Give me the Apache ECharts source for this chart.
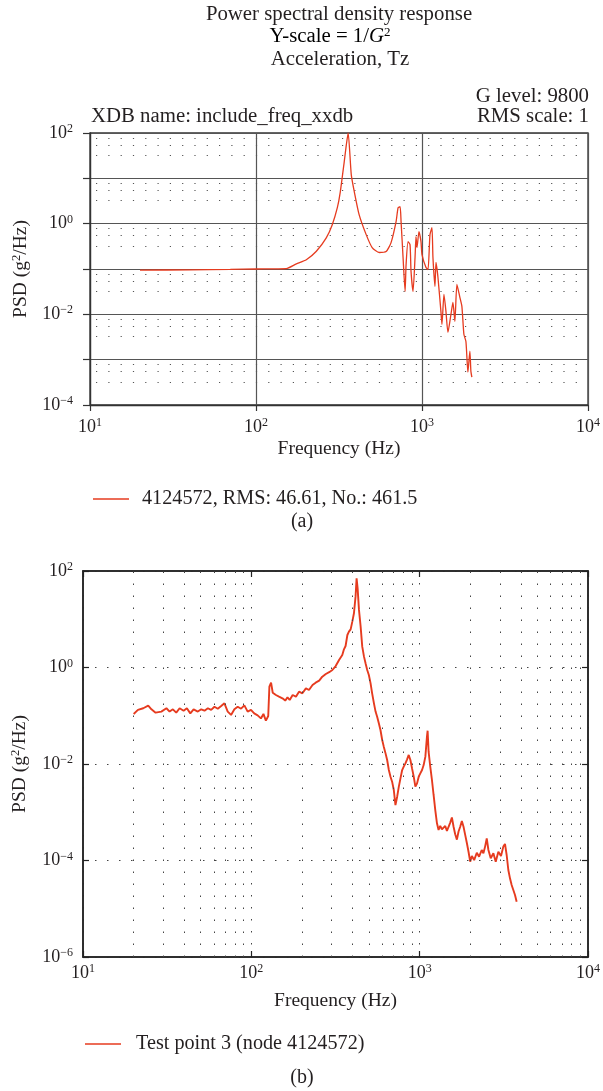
<!DOCTYPE html>
<html>
<head>
<meta charset="utf-8">
<script src="https://cdn.jsdelivr.net/npm/echarts@6/dist/echarts.min.js"></script>
<style>
html,body{margin:0;padding:0;background:#fff;}
#chart{width:603px;height:1091px;}
</style>
</head>
<body>
<div id="chart"></div>
<script>
// ---- data (a): frequency (Hz) and PSD (g^2/Hz) ----
const topFreq = [20, 40, 70, 100, 152, 175, 201, 231, 265, 288, 309, 322, 340, 350, 359, 375, 391, 418, 461, 501, 552, 608, 651, 698, 718, 738, 748, 769, 791, 802, 824, 847, 859, 883, 908, 920, 933, 959, 986, 1000, 1057, 1087, 1117, 1148, 1164, 1197, 1214, 1248, 1300, 1319, 1356, 1394, 1433, 1494, 1536, 1578, 1623, 1691, 1739, 1788, 1838, 1864, 1890, 1943, 1970, 1997];
const topPsd = [0.094, 0.096, 0.098, 0.1, 0.102, 0.13, 0.16, 0.246, 0.485, 0.95, 2.25, 5.05, 23.1, 54.5, 100, 11.9, 5.05, 1.58, 0.573, 0.297, 0.231, 0.243, 0.382, 1.11, 2.25, 2.36, 1.11, 0.179, 0.032, 0.126, 0.402, 0.345, 0.088, 0.032, 0.179, 0.518, 0.297, 0.667, 0.402, 0.208, 0.108, 0.0975, 0.573, 0.817, 0.179, 0.0412, 0.139, 0.065, 0.0116, 0.006, 0.0275, 0.0116, 0.004, 0.01, 0.0184, 0.007, 0.0456, 0.0237, 0.015, 0.00363, 0.00255, 0.00114, 0.00053, 0.00154, 0.00056, 0.00041];

// ---- data (b) ----
const botFreq = [20, 21.2, 22.8, 24.4, 25.5, 27.0, 29.2, 31.3, 32.7, 34.2, 35.8, 37.5, 39.6, 41.4, 43.4, 45.4, 48.1, 50.4, 52.7, 55.2, 57.7, 60.4, 63.2, 66.2, 69.2, 72.4, 75.8, 79.3, 83.0, 86.9, 90.9, 95.1, 99.5, 104, 109, 114, 118, 122, 126, 128, 131, 134, 140, 146, 153, 159, 164, 169, 176, 184, 192, 201, 211, 220, 231, 241, 253, 264, 277, 290, 303, 317, 332, 347, 355, 363, 372, 380, 389, 398, 407, 416, 422, 428, 436, 446, 456, 467, 477, 488, 499, 511, 522, 535, 547, 559, 572, 585, 599, 612, 627, 641, 656, 671, 686, 702, 718, 735, 752, 769, 787, 804, 823, 842, 861, 881, 901, 922, 943, 965, 987, 1009, 1033, 1056, 1081, 1105, 1115, 1130, 1156, 1183, 1210, 1238, 1267, 1295, 1325, 1356, 1387, 1419, 1452, 1485, 1519, 1554, 1590, 1626, 1664, 1702, 1741, 1781, 1822, 1864, 1907, 1951, 1996, 2042, 2107, 2185, 2254, 2337, 2392, 2447, 2503, 2561, 2643, 2741, 2830, 2934, 3042, 3140, 3213, 3287, 3363, 3440, 3519, 3601, 3684, 3769];
const botPsd = [0.109, 0.132, 0.143, 0.162, 0.136, 0.116, 0.122, 0.143, 0.122, 0.136, 0.116, 0.143, 0.127, 0.143, 0.112, 0.136, 0.122, 0.136, 0.127, 0.143, 0.132, 0.154, 0.140, 0.159, 0.181, 0.122, 0.104, 0.136, 0.154, 0.140, 0.164, 0.122, 0.132, 0.112, 0.102, 0.088, 0.109, 0.079, 0.099, 0.40, 0.485, 0.30, 0.269, 0.249, 0.23, 0.206, 0.241, 0.212, 0.269, 0.249, 0.316, 0.292, 0.370, 0.342, 0.434, 0.485, 0.533, 0.645, 0.733, 0.80, 0.887, 1.07, 1.43, 1.82, 2.38, 2.79, 4.72, 5.53, 6.18, 8.91, 13.3, 29.4, 70.5, 43.7, 15.6, 7.01, 2.70, 1.68, 1.22, 0.887, 0.70, 0.47, 0.292, 0.181, 0.122, 0.0957, 0.0697, 0.0507, 0.0314, 0.0229, 0.0166, 0.0121, 0.0075, 0.00546, 0.0043, 0.00289, 0.00141, 0.0021, 0.00339, 0.00505, 0.0075, 0.0088, 0.0103, 0.0125, 0.0154, 0.0121, 0.0081, 0.00546, 0.00339, 0.00397, 0.00546, 0.0064, 0.0075, 0.0095, 0.0142, 0.0368, 0.049, 0.018, 0.0088, 0.00466, 0.00228, 0.00111, 0.00059, 0.00043, 0.00052, 0.00044, 0.0004, 0.00052, 0.00041, 0.0005, 0.00061, 0.00078, 0.0005, 0.00035, 0.00027, 0.0004, 0.0005, 0.00066, 0.0005, 0.00034, 0.00023, 0.000152, 0.0000946, 0.000124, 0.000102, 0.000145, 0.00012, 0.000165, 0.000141, 0.000194, 0.000288, 0.000165, 0.000111, 0.000141, 0.0000946, 0.000152, 0.000124, 0.000194, 0.00022, 0.00013, 0.0000635, 0.0000427, 0.000031, 0.0000245, 0.0000193, 0.000014];

// ---- texts ----
const titleLines = ['Power spectral density response', 'Acceleration, Tz'];
const gLevel = 'G level: 9800';
const xdbName = 'XDB name: include_freq_xxdb';
const rmsScale = 'RMS scale: 1';
const seriesA = '4124572, RMS: 46.61, No.: 461.5';
const seriesB = 'Test point 3 (node 4124572)';
const xName = 'Frequency (Hz)';
const minorMultipliers = [2, 3, 4, 5, 6, 7, 8, 9];
const decades = [10, 100, 1000];

const FONT = '"Liberation Serif", "DejaVu Serif", serif';
const TXT = '#231f20';
const RED = '#e63b1f';

const minorFreqs = [];
decades.forEach(d => minorMultipliers.forEach(m => minorFreqs.push(d * m)));

const powText = e => '{b|10}{s|' + (e < 0 ? '\u2212' + (-e) : e) + '}';
const powLabel = v => powText(Math.round(Math.log10(v)));
const powLabelEven = v => {
  const e = Math.round(Math.log10(v));
  return e % 2 === 0 ? powText(e) : '';
};
const powRich = {
  b: {fontSize: 18, fontFamily: FONT, color: TXT, lineHeight: 20},
  s: {fontSize: 12, fontFamily: FONT, color: TXT, verticalAlign: 'top', lineHeight: 12}
};
const nameRich = {
  a: {fontSize: 19.5, fontFamily: FONT, color: TXT, lineHeight: 22},
  s: {fontSize: 12.5, fontFamily: FONT, color: TXT, verticalAlign: 'top', lineHeight: 12}
};
const F21 = '20.8px ' + FONT;

const chart = echarts.init(document.getElementById('chart'), null, {renderer: 'canvas'});

const option = {
  backgroundColor: '#fff',
  animation: false,
  textStyle: {fontFamily: FONT, color: TXT},
  grid: [
    {left: 90, top: 133, width: 499, height: 272, show: true, borderColor: '#333', borderWidth: 1.3, backgroundColor: 'transparent'},
    {left: 83, top: 571, width: 506, height: 386, show: true, borderColor: '#222', borderWidth: 1.5, backgroundColor: 'transparent'}
  ],
  xAxis: [
    {
      type: 'log', logBase: 10, gridIndex: 0, min: 10, max: 10000, splitNumber: 3,
      name: xName, nameLocation: 'middle', nameGap: 34,
      nameTextStyle: {fontSize: 19.5, fontFamily: FONT, color: TXT},
      axisLine: {show: true, lineStyle: {color: '#333', width: 1.3}},
      axisTick: {show: true, inside: false, length: 6, lineStyle: {color: '#333', width: 1.2}},
      axisLabel: {formatter: powLabel, rich: powRich, margin: 12},
      splitLine: {show: true, lineStyle: {color: '#555', width: 1.2, type: 'solid'}},
      minorTick: {show: false}, minorSplitLine: {show: false}
    },
    {
      type: 'log', logBase: 10, gridIndex: 1, min: 10, max: 10000, splitNumber: 3,
      name: xName, nameLocation: 'middle', nameGap: 34,
      nameTextStyle: {fontSize: 19.5, fontFamily: FONT, color: TXT},
      axisLine: {show: true, lineStyle: {color: '#222', width: 1.5}},
      axisTick: {show: true, inside: true, length: 6, lineStyle: {color: '#222', width: 1.2}},
      axisLabel: {formatter: powLabel, rich: powRich, margin: 6},
      splitLine: {show: true, lineStyle: {color: '#444', width: 1, type: [1.5, 10.5]}},
      minorTick: {show: false}, minorSplitLine: {show: false}
    },
    {
      type: 'log', logBase: 10, gridIndex: 1, min: 10, max: 10000, splitNumber: 3, position: 'top',
      axisLine: {show: true, lineStyle: {color: '#222', width: 1.5}},
      axisTick: {show: true, inside: true, length: 6, lineStyle: {color: '#222', width: 1.2}},
      axisLabel: {show: false}, splitLine: {show: false}
    }
  ],
  yAxis: [
    {
      type: 'log', logBase: 10, gridIndex: 0, min: 1e-4, max: 100, splitNumber: 6,
      name: '{a|PSD (g}{s|2}{a|/Hz)}', nameLocation: 'middle', nameGap: 58, nameRotate: 90,
      nameTextStyle: {rich: nameRich},
      axisLine: {show: true, lineStyle: {color: '#333', width: 1.3}},
      axisTick: {show: true, inside: false, length: 7, lineStyle: {color: '#333', width: 1.2}},
      axisLabel: {formatter: powLabelEven, rich: powRich, margin: 17},
      splitLine: {show: true, lineStyle: {color: '#555', width: 1.2, type: 'solid'}},
      minorTick: {show: false, splitNumber: 4},
      minorSplitLine: {show: true, lineStyle: {color: '#555', width: 1, type: [1.2, 11.1], dashOffset: -6}}
    },
    {
      type: 'log', logBase: 10, gridIndex: 1, min: 1e-6, max: 100, splitNumber: 4, interval: 2,
      name: '{a|PSD (g}{s|2}{a|/Hz)}', nameLocation: 'middle', nameGap: 52, nameRotate: 90,
      nameTextStyle: {rich: nameRich},
      axisLine: {show: true, lineStyle: {color: '#222', width: 1.5}},
      axisTick: {show: true, inside: true, length: 6, lineStyle: {color: '#222', width: 1.2}},
      axisLabel: {formatter: powLabel, rich: powRich, margin: 10},
      splitLine: {show: true, lineStyle: {color: '#444', width: 1, type: [1.5, 10.5]}},
      minorTick: {show: false}, minorSplitLine: {show: false}
    },
    {
      type: 'log', logBase: 10, gridIndex: 1, min: 1e-6, max: 100, splitNumber: 4, interval: 2, position: 'right',
      axisLine: {show: true, lineStyle: {color: '#222', width: 1.5}},
      axisTick: {show: true, inside: true, length: 6, lineStyle: {color: '#222', width: 1.2}},
      axisLabel: {show: false}, splitLine: {show: false}
    }
  ],
  legend: [
    {
      data: [seriesA], left: 88, top: 484, itemWidth: 36, itemHeight: 1.6, icon: 'rect', itemGap: 0,
      textStyle: {fontSize: 20.2, fontFamily: FONT, color: TXT, padding: [0, 0, 0, 8]}
    },
    {
      data: [seriesB], left: 80, top: 1029, itemWidth: 36, itemHeight: 1.6, icon: 'rect', itemGap: 0,
      textStyle: {fontSize: 20.2, fontFamily: FONT, color: TXT, padding: [0, 0, 0, 10]}
    }
  ],
  graphic: [
    {type: 'text', x: 339, y: 15, style: {text: titleLines[0], font: F21, fill: TXT, align: 'center', verticalAlign: 'middle'}},
    {type: 'text', x: 330, y: 37, style: {text: '{a|Y-scale = 1/}{i|G}{s|2}', align: 'center', verticalAlign: 'middle',
      rich: {a: {fontSize: 20.8, fontFamily: FONT, color: TXT, lineHeight: 22},
             i: {fontSize: 20.8, fontFamily: FONT, fontStyle: 'italic', color: TXT, lineHeight: 22},
             s: {fontSize: 13, fontFamily: FONT, color: TXT, verticalAlign: 'top', lineHeight: 12}}}},
    {type: 'text', x: 340, y: 60, style: {text: titleLines[1], font: F21, fill: TXT, align: 'center', verticalAlign: 'middle'}},
    {type: 'text', x: 589, y: 97, style: {text: gLevel, font: F21, fill: TXT, align: 'right', verticalAlign: 'middle'}},
    {type: 'text', x: 91, y: 117, style: {text: xdbName, font: F21, fill: TXT, align: 'left', verticalAlign: 'middle'}},
    {type: 'text', x: 589, y: 117, style: {text: rmsScale, font: F21, fill: TXT, align: 'right', verticalAlign: 'middle'}},
    {type: 'text', x: 302, y: 522, style: {text: '(a)', font: '20px ' + FONT, fill: TXT, align: 'center', verticalAlign: 'middle'}},
    {type: 'text', x: 302, y: 1078, style: {text: '(b)', font: '20px ' + FONT, fill: TXT, align: 'center', verticalAlign: 'middle'}}
  ],
  series: [
    {
      name: seriesA, type: 'line', xAxisIndex: 0, yAxisIndex: 0,
      data: topFreq.map((f, i) => [f, topPsd[i]]),
      symbol: 'none', smooth: 0.2, color: RED,
      lineStyle: {color: RED, width: 1.3}
    },
    {
      name: seriesB, type: 'line', xAxisIndex: 1, yAxisIndex: 1,
      data: botFreq.map((f, i) => [f, botPsd[i]]),
      symbol: 'none', color: RED,
      lineStyle: {color: RED, width: 1.9},
      markLine: {
        silent: true, symbol: ['none', 'none'], label: {show: false}, animation: false,
        lineStyle: {color: '#444', width: 1, type: [1.5, 10.5]},
        emphasis: {disabled: true},
        data: minorFreqs.map(f => ({xAxis: f}))
      }
    }
  ]
};
chart.setOption(option);
</script>
</body>
</html>
